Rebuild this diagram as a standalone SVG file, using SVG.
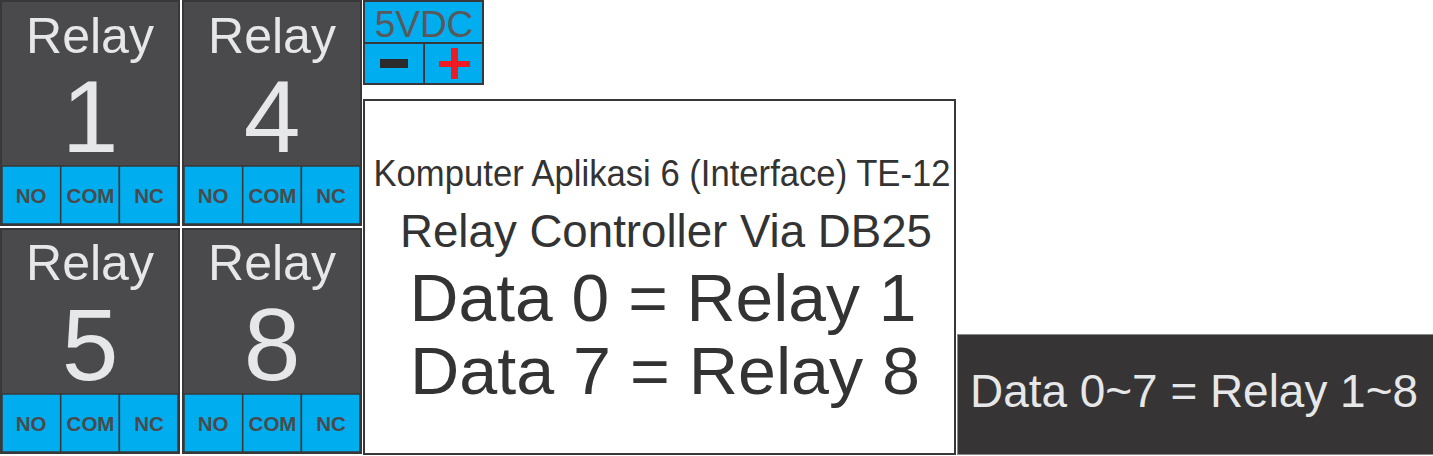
<svg xmlns="http://www.w3.org/2000/svg" width="1433" height="456" viewBox="0 0 1433 456">
<style>
text{font-family:"Liberation Sans",Arial,sans-serif}
.rbox{fill:#4a4a4d;stroke:#38383a;stroke-width:2}
.cell{fill:#00aeef;stroke:#38383a;stroke-width:1.5}
.rl{fill:#e6e7e8;font-size:50px;text-anchor:middle}
.rn{fill:#e6e7e8;font-size:102px;text-anchor:middle}
.pin{fill:#4a4a4d;font-size:20.5px;font-weight:bold;text-anchor:middle}
.mt{fill:#333333;text-anchor:middle}
</style>
<rect width="1433" height="456" fill="#ffffff"/>
<defs>
<g id="pins">
<rect class="cell" x="2" y="166" width="58.7" height="58"/>
<rect class="cell" x="60.7" y="166" width="58.7" height="58"/>
<rect class="cell" x="119.4" y="166" width="58.6" height="58"/>
<text class="pin" x="31" y="203">NO</text>
<text class="pin" x="90.5" y="203">COM</text>
<text class="pin" x="149" y="203">NC</text>
</g>
</defs>
<g id="relay1">
<rect class="rbox" x="1" y="1" width="178" height="224"/>
<text class="rl" x="90" y="53">Relay</text>
<text class="rn" x="90" y="152">1</text>
<use href="#pins"/>
</g>
<g id="relay4" transform="translate(182,0)">
<rect class="rbox" x="1" y="1" width="178" height="224"/>
<text class="rl" x="90" y="53">Relay</text>
<text class="rn" x="90" y="152">4</text>
<use href="#pins"/>
</g>
<g id="relay5" transform="translate(0,228)">
<rect class="rbox" x="1" y="1" width="178" height="224"/>
<text class="rl" x="90" y="52">Relay</text>
<text class="rn" x="90" y="152">5</text>
<use href="#pins"/>
</g>
<g id="relay8" transform="translate(182,228)">
<rect class="rbox" x="1" y="1" width="178" height="224"/>
<text class="rl" x="90" y="52">Relay</text>
<text class="rn" x="90" y="152">8</text>
<use href="#pins"/>
</g>
<g id="power">
<rect x="364" y="1" width="119" height="42" fill="#00aeef" stroke="#38383a" stroke-width="2"/>
<rect x="364" y="43" width="60" height="41" fill="#00aeef" stroke="#38383a" stroke-width="2"/>
<rect x="424" y="43" width="59" height="41" fill="#00aeef" stroke="#38383a" stroke-width="2"/>
<text x="424" y="37" font-size="37" fill="#58595b" text-anchor="middle">5VDC</text>
<rect x="380" y="59" width="28" height="9" fill="#2b2b2b"/>
<rect x="439" y="61" width="31" height="6" fill="#ed1c24"/>
<rect x="451" y="48" width="7" height="31" fill="#ed1c24"/>
</g>
<g id="controller">
<rect x="364" y="100" width="591" height="354" fill="#ffffff" stroke="#38383a" stroke-width="2"/>
<text class="mt" x="662" y="186" font-size="36" textLength="577" lengthAdjust="spacingAndGlyphs">Komputer Aplikasi 6 (Interface) TE-12</text>
<text class="mt" x="666" y="247" font-size="46" textLength="532" lengthAdjust="spacingAndGlyphs">Relay Controller Via DB25</text>
<text class="mt" x="663" y="321" font-size="67" textLength="507" lengthAdjust="spacingAndGlyphs">Data 0 = Relay 1</text>
<text class="mt" x="665" y="394" font-size="67" textLength="510" lengthAdjust="spacingAndGlyphs">Data 7 = Relay 8</text>
</g>
<g id="summary">
<rect x="957.5" y="334.5" width="476" height="120" fill="#363435" stroke="#8a8a8a" stroke-width="1"/>
<text x="1194" y="407" font-size="46" fill="#e6e7e8" text-anchor="middle" textLength="448" lengthAdjust="spacingAndGlyphs">Data 0~7 = Relay 1~8</text>
</g>
<g id="connectors"/>
</svg>
